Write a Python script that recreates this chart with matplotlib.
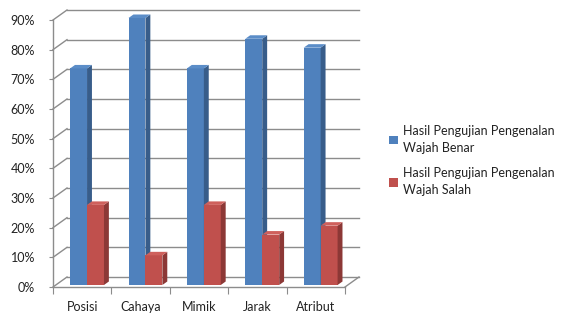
import matplotlib.pyplot as plt
from matplotlib.patches import Polygon
import numpy as np

categories = ["Posisi", "Cahaya", "Mimik", "Jarak", "Atribut"]
benar = [0.73, 0.90, 0.73, 0.83, 0.80]
salah = [0.27, 0.10, 0.27, 0.17, 0.20]
series_labels = ["Hasil Pengujian Pengenalan\nWajah Benar",
                 "Hasil Pengujian Pengenalan\nWajah Salah"]
yticks = np.arange(0, 1.0, 0.1)

W, H = 569, 313
fig = plt.figure(figsize=(W / 100, H / 100), dpi=100)
plt.rcParams['font.family'] = ['Lato', 'DejaVu Sans']

# front plane in pixels
x0, x1 = 53, 345
y0, y1 = 287, 20
ax = fig.add_axes([x0 / W, 1 - y0 / H, (x1 - x0) / W, (y0 - y1) / H])
ax.set_xlim(0, 5)
ax.set_ylim(0, 0.9)
for s in ax.spines.values():
    s.set_visible(False)

# depth offset of back wall, in data units
dx = 14 / (x1 - x0) * 5
dy = 10 / (y0 - y1) * 0.9
grid_c = "#8c8c8c"

# back wall gridlines + side wall diagonals
for v in yticks:
    ax.plot([dx, 5 + dx], [v + dy, v + dy], color=grid_c, lw=1, clip_on=False, zorder=1)
    ax.plot([0, dx], [v, v + dy], color=grid_c, lw=1, clip_on=False, zorder=1)
# floor right edge and front axes
ax.plot([5, 5 + dx], [0, dy], color=grid_c, lw=1, clip_on=False, zorder=1)
ax.plot([0, 5], [0, 0], color=grid_c, lw=1, clip_on=False, zorder=1)
ax.plot([0, 0], [0, 0.9], color=grid_c, lw=1, clip_on=False, zorder=1)

d_front, d_back = 0.2, 0.55
bw = 0.29
off = 0.245
colors = [("#4f81bd", "#385d8a", "#5b8dc8"), ("#c0504d", "#8c3836", "#cf605c")]

handles = []
for si, vals in enumerate([benar, salah]):
    front, side, top = colors[si]
    xs = np.arange(len(categories)) + off + si * bw + d_front * dx
    b = ax.bar(xs, vals, width=bw, bottom=d_front * dy, align="edge",
               color=front, zorder=3 + si, clip_on=False, lw=0)
    handles.append(b)
    ddx = (d_back - d_front) * dx
    ddy = (d_back - d_front) * dy
    for x, v in zip(xs, vals):
        yb = d_front * dy
        yt = yb + v
        ax.add_patch(Polygon([(x + bw, yb), (x + bw + ddx, yb + ddy),
                              (x + bw + ddx, yt + ddy), (x + bw, yt)],
                             closed=True, fc=side, lw=0, zorder=3 + si, clip_on=False))
        ax.add_patch(Polygon([(x, yt), (x + ddx, yt + ddy),
                              (x + bw + ddx, yt + ddy), (x + bw, yt)],
                             closed=True, fc=top, lw=0, zorder=3 + si, clip_on=False))

ax.set_yticks(yticks)
ax.set_yticklabels([f"{int(round(v * 100))}%" for v in yticks], fontsize=9, color="#222222")
ax.tick_params(axis="y", length=3, color=grid_c, pad=10)
ax.set_xticks(np.arange(0, 6))
ax.set_xticklabels([])
ax.tick_params(axis="x", length=5, color=grid_c)
ax.set_xticks(np.arange(len(categories)) + 0.5, minor=True)
ax.set_xticklabels(categories, minor=True, fontsize=9, color="#222222")
ax.tick_params(axis="x", which="minor", length=0, pad=10)

leg = fig.legend(handles, series_labels, loc="upper left", bbox_to_anchor=(383 / W, 1 - 119 / H),
                 frameon=False, fontsize=9, handlelength=0.7, handleheight=0.7,
                 handletextpad=0.4, labelspacing=1.1, borderpad=0)
for t in leg.get_texts():
    t.set_linespacing(1.45)
    t.set_color("#222222")

fig.savefig("out.png", dpi=100)
